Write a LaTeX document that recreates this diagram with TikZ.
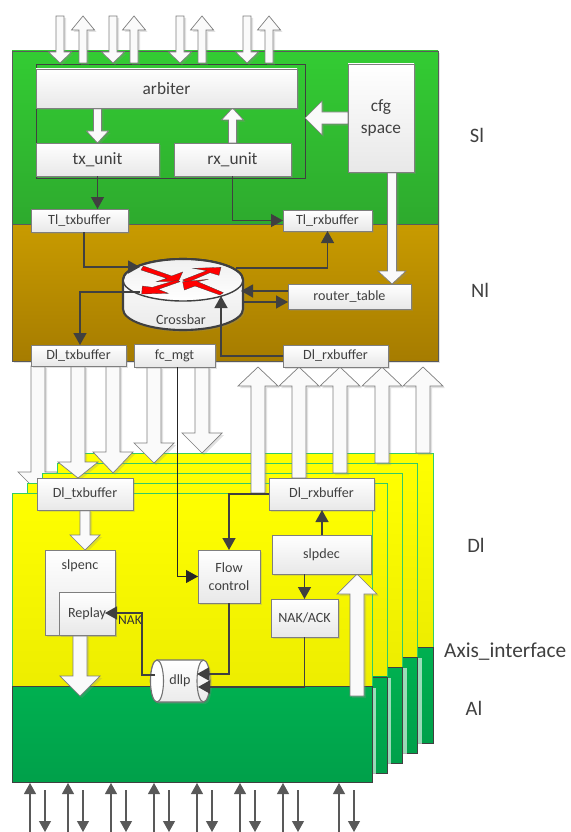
\documentclass[tikz,border=0pt]{standalone}
\usepackage{fontspec}
\setmainfont{Carlito}
\usetikzlibrary{arrows.meta,calc,shadows}
\definecolor{darkline}{HTML}{404040}
\definecolor{areaedge}{HTML}{5A5A5A}
\definecolor{boxline}{HTML}{7F7F7F}
\definecolor{pageline}{HTML}{33CC66}
\definecolor{sigreentop}{HTML}{33CC33}
\definecolor{sigreenlow}{HTML}{2EAA2E}
\definecolor{nibrowntop}{HTML}{C89B00}
\definecolor{nibrownlow}{HTML}{A67C00}
\definecolor{algreentop}{HTML}{00B050}
\definecolor{algreenlow}{HTML}{00A04A}
\pgfdeclarelayer{back}
\pgfdeclarelayer{pagelayer}
\pgfdeclarelayer{fat}
\pgfsetlayers{back,pagelayer,fat,main}
\tikzset{
  softshadow/.style={drop shadow={shadow xshift=2pt,shadow yshift=-2pt,opacity=.25,fill=black!45}},
  paleshadow/.style={drop shadow={shadow xshift=4pt,shadow yshift=-1pt,opacity=.6,fill=white}},
  boxb/.style={draw=boxline,line width=.8pt,top color=white,bottom color=black!9,softshadow,
    inner sep=0pt,outer sep=0pt,align=center,text=darkline,font=\fontsize{17.3}{22}\selectfont},
  boxs/.style={boxb,font=\fontsize{14.1}{18}\selectfont},
  plaintext/.style={inner sep=0pt,text=darkline,font=\fontsize{14.1}{18}\selectfont},
  layername/.style={inner sep=0pt,text=black!75,font=\fontsize{20.5}{24}\selectfont},
  fatbody/.style={draw=boxline,line width=.7pt,fill=black!2,softshadow},
  conn/.style={draw=darkline,line width=1.3pt,-{Triangle[length=12pt,width=13pt]}},
  thickconn/.style={conn,line width=1.9pt},
  thinconn/.style={conn,line width=.8pt,draw=black!85},
  pinline/.style={draw=black!65,line width=1.1pt,-{Triangle[length=11pt,width=12pt]}},
  redarrow/.style={fill=red,draw=darkline,line width=.3pt},
  cylbody/.style={draw=darkline,line width=2.1pt,top color=white,bottom color=black!8,softshadow},
}
% tail, tip, half shaft, half head, head length
\newcommand{\fatarrow}[5]{
  \draw[fatbody] let \p1=($(#2)-(#1)$),\n1={atan2(\y1,\x1)},\n2={veclen(\x1,\y1)} in
    [shift={(#1)},rotate=\n1]
    (0,#3) -- (\n2-#5,#3) -- (\n2-#5,#4) -- (\n2,0) -- (\n2-#5,-#4) -- (\n2-#5,-#3) -- (0,-#3) -- cycle;
}
\newcommand{\stackpage}{
  \path[draw=pageline,line width=.8pt,top color=yellow,bottom color=yellow!93!black]
    (12,493) rectangle (372,686.7);
  \path[draw=darkline,line width=.7pt,top color=algreentop,bottom color=algreenlow,paleshadow]
    (12,686.7) rectangle (372,782.7);
}
\begin{document}
\begin{tikzpicture}[x=1pt,y=-1pt]
  \useasboundingbox (0,0) rectangle (570,832);

  \begin{pgfonlayer}{back}
    \path[draw=areaedge,line width=.8pt,softshadow,top color=sigreentop,bottom color=sigreenlow]
      (12,51) rectangle (438,224);
    \path[draw=areaedge,line width=.8pt,softshadow,top color=nibrowntop,bottom color=nibrownlow]
      (12,224) rectangle (438,361);
  \end{pgfonlayer}

  % upper blocks
  \node[boxb,minimum width=261pt,minimum height=39pt] (arbiter) at (166.5,88.5) {arbiter};
  \node[boxb,minimum width=123pt,minimum height=33pt] (txunit) at (97.5,159.5) {tx\_unit};
  \node[boxb,minimum width=117pt,minimum height=33pt] (rxunit) at (232.5,159.5) {rx\_unit};
  \node[boxb,minimum width=66pt,minimum height=108pt] (cfg) at (381,118) {cfg\\space};
  \node[boxs,minimum width=97pt,minimum height=23pt] (tltx) at (79.5,220.5) {Tl\_txbuffer};
  \node[boxs,minimum width=89pt,minimum height=21pt] (tlrx) at (327.5,220.5) {Tl\_rxbuffer};
  \node[boxs,minimum width=123pt,minimum height=25pt] (routertable) at (349.5,296.5) {router\_table};
  \node[boxs,minimum width=95pt,minimum height=21pt] (dltxtop) at (78.5,355.5) {Dl\_txbuffer};
  \node[boxs,minimum width=81pt,minimum height=23pt] (fcmgt) at (174.5,355.5) {fc\_mgt};
  \node[boxs,minimum width=105pt,minimum height=22pt] (dlrxtop) at (335.5,356) {Dl\_rxbuffer};

  % lower blocks
  \node[boxs,minimum width=96pt,minimum height=32pt] (dltx) at (85,494) {Dl\_txbuffer};
  \node[boxs,minimum width=105pt,minimum height=32pt] (dlrx) at (321.5,494) {Dl\_rxbuffer};
  \node[boxs,minimum width=70pt,minimum height=85pt] (slpenc) at (80,592.5) {};
  \node[plaintext] (slpenclabel) at (80,566) {slpenc};
  \node[boxs,minimum width=56pt,minimum height=43pt] (replay) at (87,613.5) {Replay};
  \node[boxs,minimum width=62pt,minimum height=53pt] (flow) at (229,576.5) {Flow\\control};
  \node[boxs,minimum width=99pt,minimum height=39pt] (slpdec) at (321.5,554.5) {slpdec};
  \node[boxs,minimum width=67pt,minimum height=38pt] (nakack) at (304.5,618) {NAK/ACK};

  % router
  \draw[cylbody] (123,280) -- (123,309) arc[start angle=180,end angle=360,x radius=60pt,y radius=21pt]
    -- (243,280) arc[start angle=0,end angle=180,x radius=60pt,y radius=21pt] -- cycle;
  \draw[draw=darkline,line width=1.4pt,top color=black!6,bottom color=white]
    (183,280) ellipse[x radius=60pt,y radius=21pt];
  \draw[draw=darkline,line width=2.1pt] (183,259) arc[start angle=90,end angle=0,x radius=60pt,y radius=21pt];
  \draw[draw=darkline,line width=2.1pt] (183,259) arc[start angle=90,end angle=180,x radius=60pt,y radius=21pt];
  \node[plaintext] (crossbar) at (181,320) {Crossbar};
  \begin{scope}[shift={(115,250)},scale=1/3]
    \path[redarrow] (85,48) -- (170,78) -- (203,66) -- (190,95) -- (125,95) -- (155,85) -- (78,60) -- cycle;
    \path[redarrow] (203,90) -- (275,62) -- (235,55) -- (318,52) -- (312,76) -- (285,68) -- (215,98) -- cycle;
    \path[redarrow] (195,95) -- (130,118) -- (160,130) -- (80,132) -- (82,108) -- (112,112) -- (185,90) -- cycle;
    \path[redarrow] (203,95) -- (208,120) -- (240,108) -- (315,135) -- (325,128) -- (248,95) -- (280,88) -- cycle;
  \end{scope}

  % dllp
  \draw[cylbody,draw=black!55,line width=1.1pt] (157,660) -- (203.5,660) arc[start angle=90,end angle=-90,x radius=6.5pt,y radius=21pt]
    -- (157,702) arc[start angle=270,end angle=90,x radius=6.5pt,y radius=21pt] -- cycle;
  \draw[draw=black!55,line width=1.1pt,fill=white] (157,681) ellipse[x radius=6.5pt,y radius=21pt];
  \draw[draw=black!55,line width=1.1pt] (203.5,660) arc[start angle=90,end angle=270,x radius=6.5pt,y radius=21pt];
  \node[plaintext] (dllp) at (180,681) {dllp};
  \node[plaintext,font=\fontsize{13.5}{16}\selectfont,text=black!80] (nak) at (130,620) {NAK};

  % side labels
  \node[layername] (sl) at (477,135) {Sl};
  \node[layername] (nl) at (480,290) {Nl};
  \node[layername] (dl) at (476,545) {Dl};
  \node[layername,anchor=west,font=\fontsize{21.3}{24}\selectfont] (axis) at (444,652) {Axis\_interface};
  \node[layername] (al) at (474,708) {Al};

  % pages, back to front
  \begin{pgfonlayer}{pagelayer}
    \foreach \i in {4,3,2,1,0}{
      \begin{scope}[shift={(15.25*\i,-9.8*\i)}]
        \stackpage
      \end{scope}
    }
  \end{pgfonlayer}
  \begin{pgfonlayer}{back}
    \fatarrow{38,0 |- dltxtop.south}{38,492}{7}{20}{20}
  \end{pgfonlayer}

  % block arrows
  \begin{pgfonlayer}{fat}
    \draw[draw=darkline,line width=1pt] (36,65) rectangle (305,178);
    \foreach \pos in {60,113,180,247}{
      \fatarrow{\pos,16}{\pos,63}{4}{11.5}{11}
    }
    \foreach \pos in {83,134,202,269}{
      \fatarrow{\pos,63}{\pos,16}{4}{11.5}{14}
    }
    \fatarrow{arbiter.south -| txunit.north}{txunit.north}{4}{11}{12}
    \fatarrow{rxunit.north}{arbiter.south -| rxunit.north}{4}{11}{12}
    \fatarrow{cfg.west}{305,0 |- cfg.west}{6}{17}{17}
    \fatarrow{392,0 |- cfg.south}{392,0 |- routertable.north}{4.5}{14}{13}
    \fatarrow{78,0 |- dltxtop.south}{78,478}{7}{20}{16}
    \fatarrow{113,0 |- dltxtop.south}{113,473}{7}{20}{21}
    \fatarrow{154,0 |- fcmgt.south}{154,463}{7}{20}{20}
    \fatarrow{202,0 |- fcmgt.south}{202,453}{7}{20}{20}
    \fatarrow{258,493}{258,0 |- dlrxtop.south}{7}{20}{19}
    \fatarrow{299,478}{299,0 |- dlrxtop.south}{7}{20}{19}
    \fatarrow{340,473}{340,0 |- dlrxtop.south}{7}{20}{19}
    \fatarrow{382,463}{382,0 |- dlrxtop.south}{7}{20}{19}
    \fatarrow{423,453}{423,0 |- dlrxtop.south}{7}{20}{19}
    \fatarrow{dltx.south}{slpenc.north -| dltx.south}{5}{15}{15}
    \fatarrow{80,0 |- replay.south}{80,696}{7}{20}{20}
    \fatarrow{357,696}{357,0 |- slpdec.south}{7}{20}{20}
  \end{pgfonlayer}

  % free ends on the router and on dllp
  \coordinate (xbarin) at (140,267);
  \coordinate (xbarout) at (236,268);
  \coordinate (xbarleft) at (140,292);
  \coordinate (xbarright) at (241,291);
  \coordinate (xbarlow) at (243,302);
  \coordinate (xbarbottom) at (221,296);
  \coordinate (dllpflow) at (197,674);
  \coordinate (dllpnak) at (198,687);
  \coordinate (dllpleft) at (155,675);

  \draw[conn] (txunit.south) -- (txunit.south |- tltx.north);
  \draw[conn] (rxunit.south) |- (tlrx.west);
  \draw[conn] (84,0 |- tltx.south) |- (xbarin);
  \draw[conn] (xbarout) -| (tlrx.south);
  \draw[conn] (xbarleft) -| (dltxtop.north -| 80,0);
  \draw[conn] (routertable.west |- xbarright) -- (xbarright);
  \draw[conn] (xbarlow) -- (routertable.west |- xbarlow);
  \draw[conn] (dlrxtop.west) -| (xbarbottom);
  \draw[conn] (dlrx.west) -| (flow.north);
  \draw[conn] (322,0 |- slpdec.north) -- (322,0 |- dlrx.south);
  \draw[conn] (nakack.north |- slpdec.south) -- (nakack.north);
  \draw[thinconn] (177,0 |- fcmgt.south) |- (flow.west);
  \draw[conn] (flow.south) |- (dllpflow);
  \draw[thickconn] (nakack.south) |- (dllpnak);
  \draw[conn] (dllpleft) -| (142,613) -- (105,613);

  % pins under the stack
  \foreach \pos in {30,68,111,154,197,240,283,339}
    \draw[pinline] (\pos,832) -- (\pos,783);
  \foreach \pos in {45,83,126,169,212,255,298,354}
    \draw[pinline] (\pos,790) -- (\pos,832);
\end{tikzpicture}
\end{document}
